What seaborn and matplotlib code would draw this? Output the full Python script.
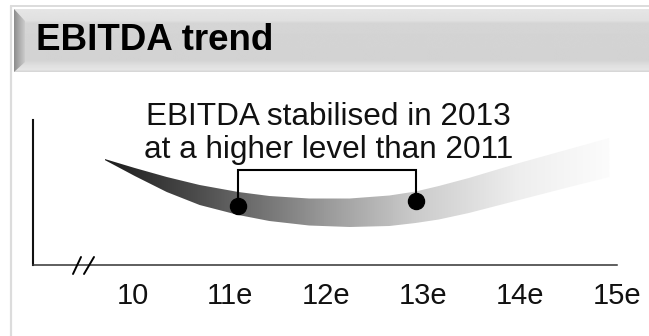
import numpy as np
import matplotlib
matplotlib.use("Agg")
import matplotlib.pyplot as plt
import seaborn as sns
from matplotlib.colors import LinearSegmentedColormap
from matplotlib.lines import Line2D
from matplotlib.patches import Polygon

# ---------------- data ----------------
title = "EBITDA trend"
note = "EBITDA stabilised in 2013\nat a higher level than 2011"
tick_pos = [10, 11, 12, 13, 14, 15]
tick_labels = ["10", "11e", "12e", "13e", "14e", "15e"]
band_x = [9.71, 10.02, 10.35, 10.69, 11.09, 11.41, 11.82, 12.24, 12.65,
          12.92, 13.16, 13.47, 13.99, 14.51, 14.92]
band_upper = [106, 97, 88, 80, 73, 69, 66.5, 66.5, 69.5, 73.5, 79, 87, 102, 116, 127]
band_lower = [105, 89, 73, 60, 50, 44, 39.5, 38, 39, 42, 45.5, 52, 65, 78, 88]
dot_x = [11.09, 12.92]
dot_y = [59, 64]
bracket_y = 95

# ---------------- figure ----------------
W, H = 649, 336
sns.set_theme(style="white")
plt.rcParams['font.family'] = ['Liberation Sans', 'DejaVu Sans']

fig = plt.figure(figsize=(W / 100, H / 100), dpi=100)
fig.patch.set_facecolor("white")


def fx(px):
    return px / W


def fy(py):
    return 1 - py / H


# outer frame lines
fig.add_artist(Line2D([fx(11), fx(649)], [fy(6), fy(6)], color="#dcdcdc", lw=1.4))
fig.add_artist(Line2D([fx(11), fx(11)], [fy(6), fy(336)], color="#dcdcdc", lw=1.6))

# title bar
bar = fig.add_axes([fx(14), fy(72), fx(649 - 14), (72 - 9) / H])
bar.set_axis_off()
ys = np.arange(9, 73)
prof = np.interp(ys, [9, 20, 23, 60, 66, 70, 72], [0.90, 0.88, 0.835, 0.825, 0.88, 0.90, 0.84])
img = np.repeat(prof[:, None], 10, axis=1)
bar.imshow(img, cmap="gray", vmin=0, vmax=1, extent=[14, 649, 72, 9], aspect="auto",
           interpolation="bilinear")
bev = Polygon([[14, 9], [25, 21], [25, 62], [14, 72]], closed=True, facecolor="none", edgecolor="none")
bar.add_patch(bev)
g = np.linspace(0.55, 0.8, 64).reshape(1, -1)
bim = bar.imshow(g, cmap="gray", vmin=0, vmax=1, extent=[14, 25, 72, 9], aspect="auto",
                 interpolation="bilinear")
bim.set_clip_path(bev)
bar.set_xlim(14, 649)
bar.set_ylim(72, 9)

fig.text(fx(36), fy(50), title, fontsize=26.5, fontweight="bold", va="baseline", color="black")

# main axes
ax = fig.add_axes([fx(33), fy(265), fx(617 - 33), (265 - 120) / H])
ax.set_facecolor("none")

poly = ax.fill_between(band_x, band_lower, band_upper, color="none", lw=0)
stops = [(0.0, "#1c1c1c"), (0.188, "#4e4e4e"), (0.445, "#9c9c9c"), (0.616, "#cbcbcb"),
         (0.82, "#eeeeee"), (1.0, "#fcfcfc")]
cmap = LinearSegmentedColormap.from_list("band", stops)
grad = np.linspace(0, 1, 512).reshape(1, -1)
im = ax.imshow(grad, extent=[min(band_x), max(band_x), 0, 145], aspect="auto", cmap=cmap,
               origin="lower", interpolation="bilinear", zorder=2)
im.set_clip_path(poly.get_paths()[0], transform=ax.transData)

# bracket and dots
ax.plot([dot_x[0], dot_x[0], dot_x[1], dot_x[1]], [dot_y[0], bracket_y, bracket_y, dot_y[1]],
        color="black", lw=1.5, zorder=3, solid_joinstyle="miter")
sns.scatterplot(x=dot_x, y=dot_y, s=135, color="black", edgecolor="black", ax=ax,
                zorder=5, legend=False)

ax.text(12.02, 107, note, ha="center", va="baseline", fontsize=22.7, linespacing=1.12,
        color="#111111", multialignment="center")

ax.set_xlim(10 + (33 - 133) / 97, 10 + (617 - 133) / 97)
ax.set_ylim(0, 145)
ax.set_xticks(tick_pos)
ax.set_xticklabels(tick_labels, fontsize=21, color="#111111")
ax.set_yticks([])
ax.tick_params(axis="x", length=0, pad=12.5)
for s in ["top", "right"]:
    ax.spines[s].set_visible(False)
ax.spines["left"].set_color("#111111")
ax.spines["left"].set_linewidth(1.5)
ax.spines["bottom"].set_color("#333333")
ax.spines["bottom"].set_linewidth(1.1)

# axis break marks
fig.add_artist(Line2D([fx(73), fx(81)], [fy(274), fy(257)], color="black", lw=1.4))
fig.add_artist(Line2D([fx(84), fx(94)], [fy(274), fy(257)], color="black", lw=1.4))

fig.savefig("out.png", dpi=100, facecolor="white")
